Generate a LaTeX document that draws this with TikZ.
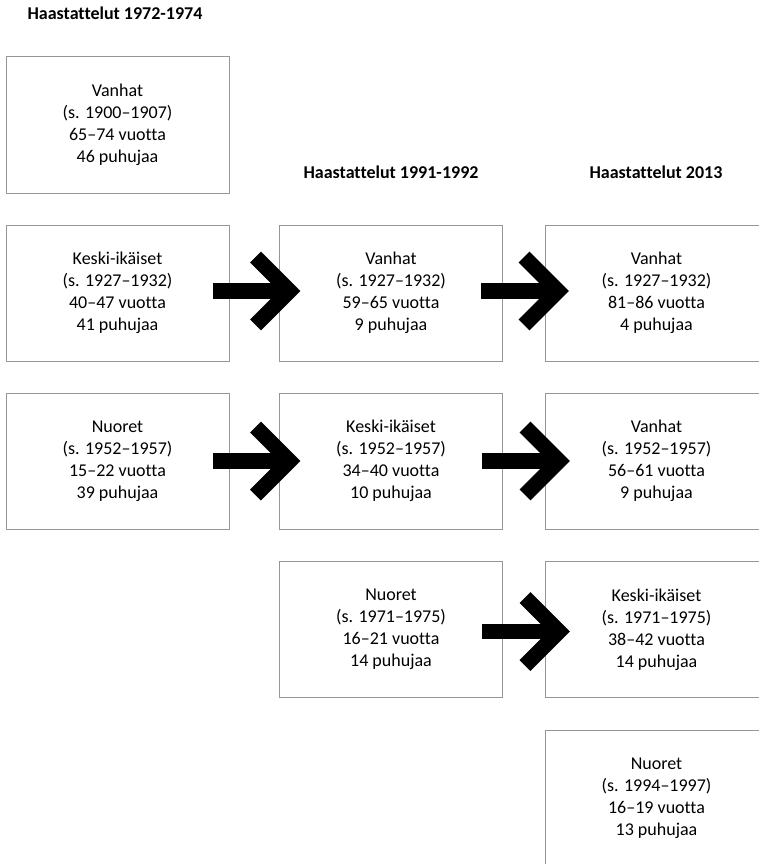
\documentclass[tikz,border=0pt]{standalone}
\usepackage{fontspec}
\setmainfont[Ligatures={NoCommon,NoContextual}]{Carlito}
\usetikzlibrary{calc}
\definecolor{boxline}{RGB}{150,150,150}
\tikzset{
  box/.style={draw=boxline, line width=1pt, minimum width=223pt, minimum height=136pt,
    align=center, font=\fontsize{18pt}{22pt}\selectfont, inner sep=0pt},
  head/.style={font=\fontsize{18pt}{22pt}\selectfont\bfseries, anchor=base, inner sep=0pt},
  blk/.style={line width=15.5pt, draw=black, line join=miter, line cap=butt}
}
\newcommand\blkarrow[3]{%
  \draw[blk] ($(#1.east)+(#2,#3)$) coordinate (s) -- ++(77,0) coordinate (v);
  \draw[blk] ($(v)+(-34,-34)$) -- (v) -- ++(-34,34);
}
\begin{document}
\begin{tikzpicture}[x=1pt,y=-1pt]
\useasboundingbox (0,0) rectangle (759,864);
\clip (0,0) rectangle (759,864);
\fill[white] (0,0) rectangle (759,864);
% headers
\node[head] (h1) at (115,19.5) {Haastattelut 1972-1974};
\node[head] (h2) at (391,178) {Haastattelut 1991-1992};
\node[head] (h3) at (656,178) {Haastattelut 2013};
% left column
\node[box] (a1) at (117.5,125) {Vanhat\\(s. 1900–1907)\\65–74 vuotta\\46 puhujaa};
\node[box] (a2) at (117.5,293) {Keski-ikäiset\\(s. 1927–1932)\\40–47 vuotta\\41 puhujaa};
\node[box] (a3) at (117.5,461) {Nuoret\\(s. 1952–1957)\\15–22 vuotta\\39 puhujaa};
% middle column
\node[box] (b2) at (391,293) {Vanhat\\(s. 1927–1932)\\59–65 vuotta\\9 puhujaa};
\node[box] (b3) at (391,461) {Keski-ikäiset\\(s. 1952–1957)\\34–40 vuotta\\10 puhujaa};
\node[box] (b4) at (391,629.5) {Nuoret\\(s. 1971–1975)\\16–21 vuotta\\14 puhujaa};
% right column
\node[box] (c2) at (656.5,293) {Vanhat\\(s. 1927–1932)\\81–86 vuotta\\4 puhujaa};
\node[box] (c3) at (656.5,461) {Vanhat\\(s. 1952–1957)\\56–61 vuotta\\9 puhujaa};
\node[box] (c4) at (656.5,629.5) {Keski-ikäiset\\(s. 1971–1975)\\38–42 vuotta\\14 puhujaa};
\node[box] (c5) at (656.5,798) {Nuoret\\(s. 1994–1997)\\16–19 vuotta\\13 puhujaa};
% arrows
\blkarrow{a2}{-17}{-2}
\blkarrow{b2}{-22}{-2}
\blkarrow{a3}{-17}{0}
\blkarrow{b3}{-21}{0}
\blkarrow{b4}{-21}{2}
\end{tikzpicture}
\end{document}
